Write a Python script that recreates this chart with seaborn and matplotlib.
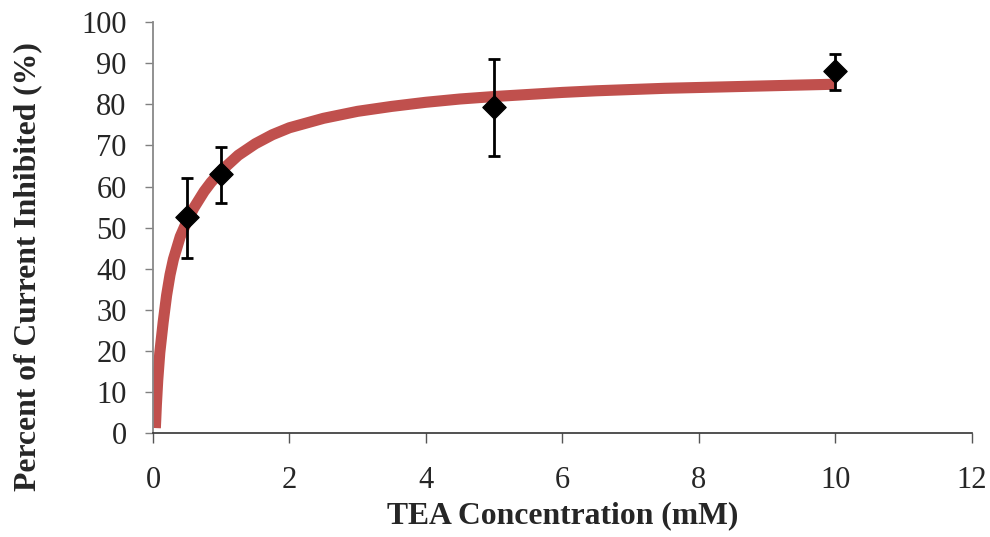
import numpy as np
import pandas as pd
import matplotlib
matplotlib.use("Agg")
import matplotlib.pyplot as plt
import seaborn as sns

# measured points
conc = [0.5, 1, 5, 10]
inhibited = [52.5, 63.0, 79.3, 88.0]
err_low = [10.0, 7.0, 11.9, 4.6]
err_high = [9.5, 6.5, 11.8, 4.3]

# fitted curve
fit_x = [0.035, 0.04, 0.05, 0.07, 0.1, 0.15, 0.2, 0.25, 0.3, 0.4, 0.5, 0.6,
         0.75, 0.85, 1, 1.25, 1.5, 1.75, 2, 2.5, 3, 3.5, 4, 4.5, 5, 5.5, 6, 6.5, 7,
         7.5, 8, 8.5, 9, 9.5, 10]
fit_y = [1.2, 3.0, 6.8, 12.8, 19.5, 27.0, 33.5, 38.5, 42.3, 47.8, 51.6, 54.8,
         58.8, 61.0, 63.8, 67.6, 70.4, 72.6, 74.3, 76.6, 78.3, 79.5, 80.5, 81.3, 81.9, 82.4,
         82.9, 83.3, 83.6, 83.9, 84.1, 84.3, 84.5, 84.7, 84.9]

sns.set_style("white")
plt.rcParams['font.family'] = ['Liberation Serif', 'DejaVu Serif']

fig = plt.figure(figsize=(9.9, 5.37), dpi=100)
ax = fig.add_axes([0.1545, 0.1937, 0.827, 0.765])

fit = pd.DataFrame({"x": fit_x, "y": fit_y})
sns.lineplot(x="x", y="y", data=fit, ax=ax, color="#C0504D", linewidth=8,
             solid_capstyle="butt", solid_joinstyle="round", zorder=2)

ax.errorbar(conc, inhibited, yerr=[err_low, err_high], fmt="none",
            ecolor="black", elinewidth=2, capsize=4.5, capthick=2, zorder=3)
pts = pd.DataFrame({"x": conc, "y": inhibited})
sns.scatterplot(x="x", y="y", data=pts, ax=ax, marker="D", s=140,
                color="black", edgecolor="black", zorder=4)

ax.set_xlim(0, 12)
ax.set_ylim(0, 100)
ax.set_xticks(range(0, 13, 2))
ax.set_yticks(range(0, 101, 10))
ax.tick_params(axis="x", direction="out", length=7, width=1, color="#555555",
               labelsize=22, bottom=True, pad=17)
ax.tick_params(axis="y", direction="out", length=6, width=1, color="#808080",
               labelsize=22, left=True, pad=13)
for side in ["top", "right"]:
    ax.spines[side].set_visible(False)
ax.spines["left"].set_color("#888888")
ax.spines["left"].set_linewidth(1.3)
ax.spines["bottom"].set_color("#333333")
ax.spines["bottom"].set_linewidth(1.2)

ax.set_xlabel("TEA Concentration (mM)", fontsize=22.8, fontweight="bold", labelpad=4)
# label sits a bit lower than the axes centre in the original
ax.set_ylabel("Percent of Current Inhibited (%)", fontsize=22.8, fontweight="bold",
              labelpad=28, y=0.406)

fig.savefig("out.png", dpi=100)
